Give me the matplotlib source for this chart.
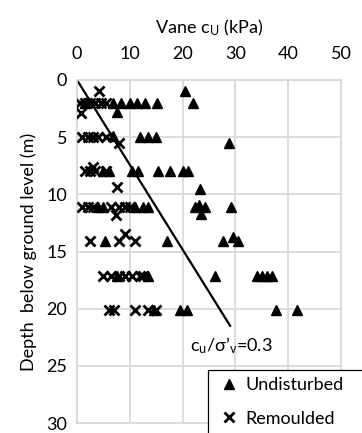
import matplotlib
matplotlib.use("Agg")
import matplotlib.pyplot as plt
from matplotlib.lines import Line2D
from matplotlib.patches import Rectangle

plt.rcParams['font.family'] = ['Lato', 'DejaVu Sans']
plt.rcParams['mathtext.fontset'] = 'custom'
plt.rcParams['mathtext.rm'] = 'Lato'
plt.rcParams['mathtext.it'] = 'Lato:italic'

# Undisturbed vane strength (kPa) and depth (m)
undisturbed_cu = [20.4,
                  1.5, 6.9, 8.4, 10.0, 11.4, 12.9, 15.1, 22.0,
                  7.6,
                  6.9, 12.0, 13.5, 15.0, 28.8,
                  5.0, 6.0, 10.5, 11.5, 15.4, 17.6, 20.1, 21.0,
                  23.3,
                  4.0, 5.0, 11.0, 12.5, 13.5, 22.3, 23.2, 24.2, 29.1, 23.4,
                  5.3, 17.0, 27.7, 29.5, 30.5,
                  7.5, 13.5, 26.1, 34.0, 35.0, 36.0, 37.0,
                  14.5, 19.6, 20.8, 37.6, 41.7]
undisturbed_depth = [1.0,
                     2.0, 2.0, 2.0, 2.0, 2.0, 2.0, 2.0, 2.0,
                     2.8,
                     4.9, 5.0, 5.0, 5.0, 5.5,
                     8.0, 8.0, 8.0, 8.0, 8.0, 8.0, 8.0, 8.0,
                     9.5,
                     11.1, 11.1, 11.1, 11.1, 11.1, 11.1, 10.9, 11.1, 11.1, 11.7,
                     14.1, 14.1, 14.1, 13.7, 14.1,
                     17.1, 17.1, 17.1, 17.1, 17.1, 17.1, 17.1,
                     20.1, 20.1, 20.1, 20.1, 20.1]

# Remoulded vane strength (kPa) and depth (m)
remoulded_cu = [4.2,
                0.5, 1.5, 2.5, 3.5, 4.5, 5.5,
                0.8,
                1.0, 2.0, 3.0, 4.0, 5.5, 8.0,
                1.5, 2.5, 3.5, 5.5, 3.0,
                7.5,
                1.0, 2.0, 3.0, 6.5, 8.0, 9.0, 10.0, 7.3,
                2.5, 8.0, 11.0, 9.0,
                5.0, 6.5, 8.0, 9.0, 10.5, 12.0, 12.5,
                6.0, 7.0, 11.0, 13.5, 15.0]
remoulded_depth = [1.0,
                   2.0, 2.0, 2.0, 2.0, 2.0, 2.0,
                   2.9,
                   5.0, 5.0, 5.0, 5.0, 5.0, 5.5,
                   8.0, 8.0, 8.0, 8.0, 7.6,
                   9.4,
                   11.1, 11.1, 11.1, 11.1, 11.1, 11.1, 11.1, 11.8,
                   14.1, 14.1, 14.1, 13.5,
                   17.1, 17.1, 17.1, 17.1, 17.1, 17.1, 17.1,
                   20.1, 20.1, 20.1, 20.1, 20.1]

# Reference trend cu / sigma'v = 0.3
trend_cu = [0.0, 29.0]
trend_depth = [0.0, 21.5]

x_ticks = [0, 10, 20, 30, 40, 50]
y_ticks = [0, 5, 10, 15, 20, 25, 30]

FS = 13

fig = plt.figure(figsize=(3.62, 4.33), dpi=100)
ax = fig.add_axes([77 / 362, 1 - 423 / 433, (341 - 77) / 362, (423 - 80) / 433])

grid_c = '#d9d9d9'
ax.set_xlim(0, 50)
ax.set_ylim(30, 0)
ax.set_xticks(x_ticks)
ax.set_yticks(y_ticks)
ax.grid(True, color=grid_c, linewidth=1.3)
ax.set_axisbelow(True)
for s in ax.spines.values():
    s.set_color(grid_c)
    s.set_linewidth(1.3)
ax.xaxis.tick_top()
ax.xaxis.set_label_position('top')
ax.tick_params(axis='both', length=0, labelsize=FS, colors='black')
ax.tick_params(axis='x', pad=13)
ax.tick_params(axis='y', pad=7)

ax.plot(trend_cu, trend_depth, color='black', linewidth=1.6, zorder=2)
ax.plot(undisturbed_cu, undisturbed_depth, linestyle='none', marker='^',
        color='black', markersize=7.5, zorder=3)
ax.plot(remoulded_cu, remoulded_depth, linestyle='none', marker='x',
        color='black', markersize=6.5, markeredgewidth=2.0, zorder=3)

ax.set_xlabel(r'Vane c$_\mathregular{U}$ (kPa)', fontsize=FS, labelpad=9)
ax.set_ylabel('Depth  below ground level (m)', fontsize=FS, labelpad=7)

ax.text(29.3, 23.2, r'c$_\mathregular{u}$/σ’$_\mathregular{v}$=0.3',
        fontsize=FS, ha='center', va='center')

# Legend box: white panel with black border running off the lower right
W, H = 362, 433
fig.patches.append(Rectangle((208 / W, -0.2), 0.6, 1 - 370 / H + 0.2,
                             transform=fig.transFigure, facecolor='white',
                             edgecolor='black', linewidth=0.9, zorder=5))

handles = [
    Line2D([], [], linestyle='none', marker='^', color='black', markersize=7.5),
    Line2D([], [], linestyle='none', marker='x', color='black', markersize=6.5,
           markeredgewidth=2.0),
]
leg = fig.legend(handles, ['Undisturbed', 'Remoulded'],
                 loc='upper left', bbox_to_anchor=(209 / W, 1 - 372 / H),
                 fontsize=FS, frameon=False, handlelength=1.6,
                 handletextpad=0.1, borderpad=0.3, labelspacing=0.95,
                 borderaxespad=0)
leg.set_zorder(6)

fig.savefig('out.png', dpi=100)
